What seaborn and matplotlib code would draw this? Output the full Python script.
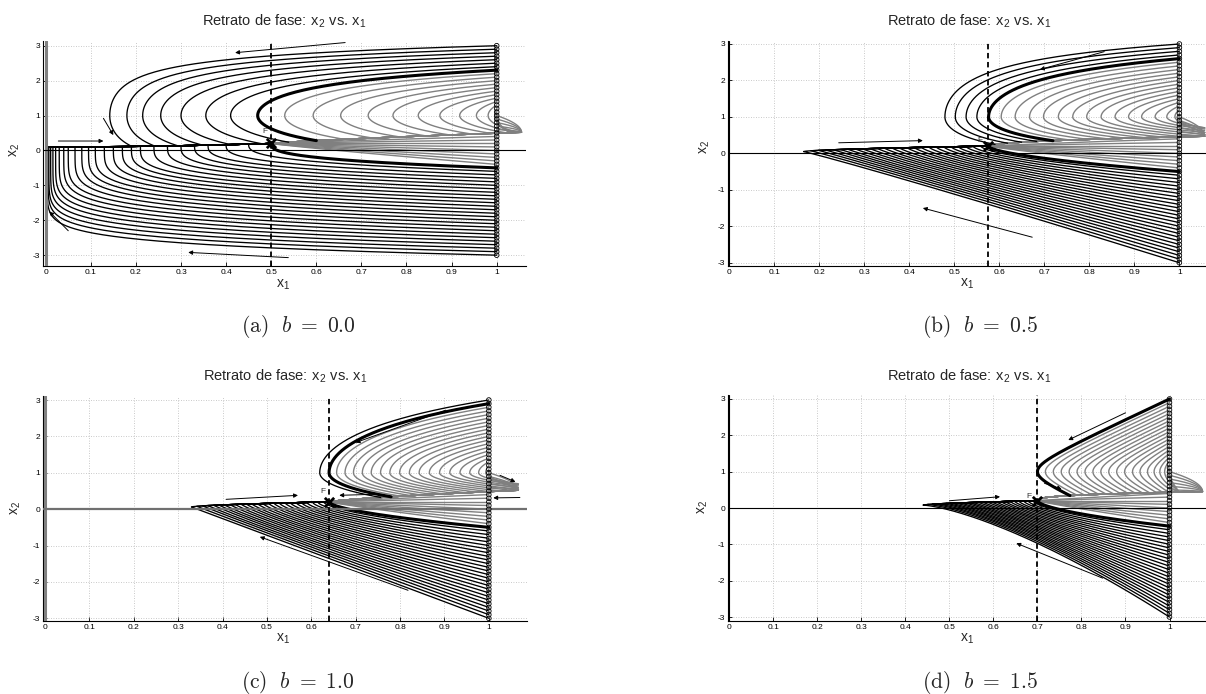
import numpy as np
import pandas as pd
import matplotlib
matplotlib.use("Agg")
import matplotlib.pyplot as plt
import seaborn as sns

# ---------------- data ----------------
B_VALUES = [0.0, 0.5, 1.0, 1.5]
PANEL_TAGS = ["(a)", "(b)", "(c)", "(d)"]
F_X = [0.500, 0.575, 0.640, 0.700]
F_Y = [0.20, 0.20, 0.20, 0.20]
CUSP_X = [0.003, 0.165, 0.330, 0.440]
CUSP_Y = [0.10, 0.05, 0.06, 0.08]
TIP_X = [1.055, 1.056, 1.066, 1.075]
TIP_Y = [0.52, 0.47, 0.52, 0.45]

UPPER_START = [3.0, 2.9, 2.8, 2.7, 2.6, 2.5, 2.4, 2.3, 2.2, 2.1,
               2.0, 1.9, 1.8, 1.7, 1.6, 1.5, 1.4, 1.3, 1.2, 1.1]
UPPER_BOLD = [2.3, 2.6, 2.9, 3.0]
VERTEX_A = [0.142, 0.180, 0.215, 0.255, 0.300, 0.355, 0.410, 0.470, 0.530, 0.593,
            0.654, 0.715, 0.770, 0.826, 0.874, 0.918, 0.955, 0.981, 0.996, 0.999]
VERTEX_B = [0.479, 0.502, 0.526, 0.550, 0.576, 0.604, 0.635, 0.667, 0.698, 0.731,
            0.763, 0.794, 0.826, 0.857, 0.887, 0.916, 0.946, 0.972, 0.990, 0.999]
VERTEX_C = [0.619, 0.640, 0.657, 0.676, 0.695, 0.715, 0.735, 0.756, 0.777, 0.799,
            0.821, 0.843, 0.866, 0.889, 0.912, 0.935, 0.957, 0.977, 0.993, 0.999]
VERTEX_D = [0.700, 0.718, 0.736, 0.754, 0.772, 0.790, 0.808, 0.826, 0.844, 0.862,
            0.880, 0.898, 0.916, 0.933, 0.950, 0.965, 0.978, 0.989, 0.996, 0.999]
VERTICES = [VERTEX_A, VERTEX_B, VERTEX_C, VERTEX_D]

LOWER_START = [-0.5, -0.6, -0.7, -0.8, -0.9, -1.0, -1.1, -1.2, -1.3, -1.4, -1.5, -1.6, -1.7,
               -1.8, -1.9, -2.0, -2.1, -2.2, -2.3, -2.4, -2.5, -2.6, -2.7, -2.8, -2.9, -3.0]
LOWER_TIP_A = [0.500, 0.450, 0.400, 0.360, 0.330, 0.300, 0.270, 0.240, 0.210, 0.190, 0.170, 0.150, 0.130,
               0.110, 0.095, 0.080, 0.065, 0.050, 0.040, 0.030, 0.022, 0.016, 0.011, 0.007, 0.005, 0.003]
LOWER_TIP_B = [0.575, 0.559, 0.542, 0.526, 0.509, 0.493, 0.477, 0.460, 0.444, 0.427, 0.411, 0.395, 0.378,
               0.362, 0.345, 0.329, 0.313, 0.296, 0.280, 0.263, 0.247, 0.231, 0.214, 0.198, 0.181, 0.165]
LOWER_TIP_C = [0.640, 0.628, 0.615, 0.603, 0.590, 0.578, 0.566, 0.553, 0.541, 0.528, 0.516, 0.504, 0.491,
               0.479, 0.466, 0.454, 0.442, 0.429, 0.417, 0.404, 0.392, 0.380, 0.367, 0.355, 0.342, 0.330]
LOWER_TIP_D = [0.700, 0.690, 0.679, 0.669, 0.658, 0.648, 0.638, 0.627, 0.617, 0.606, 0.596, 0.586, 0.575,
               0.565, 0.554, 0.544, 0.534, 0.523, 0.513, 0.502, 0.492, 0.482, 0.471, 0.461, 0.450, 0.440]
LOWER_TIPS = [LOWER_TIP_A, LOWER_TIP_B, LOWER_TIP_C, LOWER_TIP_D]

WEDGE_START = [-0.4, -0.3, -0.2, -0.1, 0.0, 0.1, 0.2, 0.3, 0.4]
RETURN_START = [0.5, 0.6, 0.7, 0.8, 0.9, 1.0]

F_LABEL_X = [0.486, 0.557, 0.627, 0.680]
F_LABEL_Y = [0.54, 0.36, 0.48, 0.31]

ARROWS_A = [((0.664, 3.09), (0.42, 2.80)), ((0.128, 0.92), (0.15, 0.44)),
            ((0.028, 0.27), (0.128, 0.27)), ((0.05, -2.30), (0.008, -1.75)),
            ((0.538, -3.07), (0.316, -2.92))]
ARROWS_B = [((0.833, 2.79), (0.69, 2.30)), ((0.243, 0.29), (0.43, 0.35)),
            ((0.673, -2.30), (0.43, -1.50))]
ARROWS_C = [((0.903, 2.72), (0.70, 1.83)), ((0.408, 0.27), (0.57, 0.38)),
            ((0.747, 0.41), (0.663, 0.38)), ((1.025, 0.93), (1.06, 0.75)),
            ((1.07, 0.32), (1.01, 0.31)), ((0.818, -2.23), (0.484, -0.76))]
ARROWS_D = [((0.90, 2.62), (0.77, 1.87)), ((0.716, 0.68), (0.755, 0.52)),
            ((0.50, 0.20), (0.615, 0.31)), ((0.848, -1.93), (0.652, -0.97))]
ARROWS = [ARROWS_A, ARROWS_B, ARROWS_C, ARROWS_D]

# ---------------- curve-shape settings (style) ----------------
ARM_SHAPE = [("exp", 0.75), ("exp", 0.45), ("exp", 0.15), ("hyp", 0.35)]
ARM_STRETCH = [1.12, 1.69, 1.94, 1.03]
UP_RIDGE_POW = [0.8, 0.5, 0.74, 0.35]
LOW_RIDGE_POW = [2.0, 0.6, 0.6, 0.6]
LOWER_POW = [(0.35, 0.10), (0.6, 1.05), (0.6, 1.0), (0.6, 1.4)]

# layout in pixels (left, right, top, bottom) and limits
FIG_W, FIG_H = 1206, 694
AX_PX = [(43, 526, 41, 266), (728, 1210, 40.5, 266), (43, 527, 396, 621), (728, 1210, 395, 621)]
XLIMS = [(-0.006, 1.065), (-0.003, 1.068), (-0.0045, 1.086), (-0.003, 1.092)]
YLIMS = [(-3.31, 3.135), (-3.09, 3.096), (-3.074, 3.11), (-3.11, 3.11)]
TITLE_PX = [(284, 21.7), (969, 21.7), (285, 376.7), (969, 376.7)]
YLAB_PX = [(15, 150), (705, 147), (16, 508), (703, 507)]
XLAB_PX = [(283, 285), (967, 284), (283, 639), (967, 638.5)]
CAP_PX = [(298, 327), (980, 327), (298, 682), (980, 682)]

sns.set_style("white")
plt.rcParams["font.family"] = ["Liberation Sans", "DejaVu Sans"]
plt.rcParams["mathtext.fontset"] = "cm"
plt.rcParams["axes.unicode_minus"] = False

GRAY = "#808080"


def phi(kind, par, dy):
    dy = np.abs(dy)
    if kind == "exp":
        return np.expm1(par * dy ** 2)
    return np.sqrt(par ** 2 + dy ** 2) - par


def ridge(x, k):
    x = np.asarray(x, float)
    fx, fy = F_X[k], F_Y[k]
    ul = np.clip((x - CUSP_X[k]) / (fx - CUSP_X[k]), 0, 1)
    uu = np.clip((x - fx) / (TIP_X[k] - fx), 0, 1)
    low = CUSP_Y[k] + (fy - CUSP_Y[k]) * ul ** LOW_RIDGE_POW[k]
    up = fy + (TIP_Y[k] - fy) * uu ** UP_RIDGE_POW[k]
    return np.where(x < fx, low, up)


def ridge_path(xa, k):
    xs = np.linspace(xa, F_X[k], 80)
    return xs, ridge(xs, k)


def upper_curve(k, y0, xv):
    kind, par = ARM_SHAPE[k]
    c = (1.0 - xv) / phi(kind, par, y0 - 1.0)
    ya = np.linspace(y0, 1.0, 140)
    xa = xv + c * phi(kind, par, ya - 1.0)
    yb = np.linspace(1.0, -0.6, 900)
    xb = xv + c * phi(kind, par, ARM_STRETCH[k] * (1.0 - yb))
    hit = (yb <= ridge(xb, k)) | (xb >= TIP_X[k])
    i = int(np.argmax(hit)) if hit.any() else len(yb) - 1
    xb, yb = xb[: i + 1], yb[: i + 1]
    xe = min(xb[-1], TIP_X[k])
    xr, yr = ridge_path(xe, k)
    return (np.concatenate([xa, xb]), np.concatenate([ya, yb])), (xr, yr), xe


def lower_curve(k, y0, xt, p):
    u = np.concatenate([np.geomspace(1.0, 1e-6, 240), [0.0]])
    yt = float(ridge(xt, k))
    x1 = xt + (1.0 - xt) * u
    x2 = yt + (y0 - yt) * u ** p
    xr, yr = ridge_path(xt, k)
    return np.concatenate([x1, xr]), np.concatenate([x2, yr])


def wedge_curve(k, y0):
    u = np.linspace(1.0, 0.0, 120)
    return F_X[k] + (1.0 - F_X[k]) * u, F_Y[k] + (y0 - F_Y[k]) * u ** 0.9


def return_curve(k, y0):
    s = np.linspace(0.0, 1.0, 120)
    x1 = 1.0 + (TIP_X[k] - 1.0) * (1.0 - (1.0 - s) ** 2)
    x2 = y0 + (TIP_Y[k] - y0) * s
    xr, yr = ridge_path(TIP_X[k], k)
    return np.concatenate([x1, xr]), np.concatenate([x2, yr])


def build_panel(k):
    frames = []
    cid = 0

    def add(x, y, grp):
        nonlocal cid
        frames.append(pd.DataFrame({"x1": x, "x2": y, "cid": cid, "grp": grp}))
        cid += 1

    for y0, xv in zip(UPPER_START, VERTICES[k]):
        (xa, ya), (xr, yr), xe = upper_curve(k, y0, xv)
        if abs(y0 - UPPER_BOLD[k]) < 1e-9:
            grp = "bold"
        elif y0 > UPPER_BOLD[k]:
            grp = "black"
        else:
            grp = "gray"
        add(xa, ya, grp)
        add(xr, yr, "gray" if (xe > F_X[k] or grp == "gray") else "black")
    p_top, p_bot = LOWER_POW[k]
    n = len(LOWER_START)
    for i, (y0, xt) in enumerate(zip(LOWER_START, LOWER_TIPS[k])):
        p = p_top + (p_bot - p_top) * i / (n - 1)
        x, y = lower_curve(k, y0, xt, p)
        add(x, y, "bold" if i == 0 else "black")
    for y0 in WEDGE_START:
        x, y = wedge_curve(k, y0)
        add(x, y, "gray")
    for y0 in RETURN_START:
        x, y = return_curve(k, y0)
        add(x, y, "gray")
    return pd.concat(frames, ignore_index=True)


fig = plt.figure(figsize=(FIG_W / 100, FIG_H / 100), dpi=100)

for k in range(4):
    l, r, t, b = AX_PX[k]
    ax = fig.add_axes([l / FIG_W, 1 - b / FIG_H, (r - l) / FIG_W, (b - t) / FIG_H])
    ax.set_xlim(*XLIMS[k])
    ax.set_ylim(*YLIMS[k])
    ax.set_xticks([0, 0.1, 0.2, 0.3, 0.4, 0.5, 0.6, 0.7, 0.8, 0.9, 1])
    ax.set_xticklabels(["0", "0.1", "0.2", "0.3", "0.4", "0.5", "0.6", "0.7", "0.8", "0.9", "1"])
    ax.set_yticks([-3, -2, -1, 0, 1, 2, 3])
    ax.grid(True, linestyle=(0, (1, 2)), color="#b8b8b8", lw=0.6)
    ax.set_axisbelow(True)

    df = build_panel(k)
    styles = {"gray": (GRAY, 1.0, 2), "black": ("black", 0.95, 3), "bold": ("black", 2.2, 4)}
    for grp in ["gray", "black", "bold"]:
        col, lw, z = styles[grp]
        sub = df[df["grp"] == grp]
        sns.lineplot(data=sub, x="x1", y="x2", units="cid", estimator=None, sort=False,
                     color=col, lw=lw, ax=ax, legend=False, zorder=z)

    if k in (0, 2):
        ax.axvline(0, color=GRAY, lw=2.2, zorder=5)
    else:
        ax.axvline(0, color="black", lw=0.8, zorder=5)
    if k == 2:
        ax.axhline(0, color="#707070", lw=1.6, zorder=5)
    else:
        ax.axhline(0, color="black", lw=0.8, zorder=5)
    ax.axvline(F_X[k], color="black", lw=1.3, ls=(0, (3, 2)), zorder=6)

    starts = sorted(LOWER_START + WEDGE_START + RETURN_START + UPPER_START)
    sns.scatterplot(x=[1.0] * len(starts), y=starts, marker="o", s=11,
                    facecolor="none", edgecolor="black", linewidth=0.6, ax=ax, zorder=7)
    sns.scatterplot(x=[F_X[k]], y=[F_Y[k]], marker="x", s=45, color="black",
                    linewidth=2.0, ax=ax, zorder=8)
    ax.text(F_LABEL_X[k], F_LABEL_Y[k], "F", fontsize=6, color="#333333",
            ha="center", va="center", zorder=8)

    for (xs, ys), (xe, ye) in ARROWS[k]:
        ax.annotate("", xy=(xe, ye), xytext=(xs, ys),
                    arrowprops=dict(arrowstyle="-|>", color="black", lw=0.7,
                                    mutation_scale=6, shrinkA=0, shrinkB=0), zorder=9)

    ax.set_xlabel("")
    ax.set_ylabel("")
    for sp in ["top", "right"]:
        ax.spines[sp].set_visible(False)
    for sp in ["left", "bottom"]:
        ax.spines[sp].set_color("black")
        ax.spines[sp].set_linewidth(0.8)
    ax.tick_params(direction="in", length=3, width=0.6, labelsize=6, pad=2,
                   colors="black", left=True, bottom=True)

    tx, ty = TITLE_PX[k]
    fig.text(tx / FIG_W, 1 - ty / FIG_H, r"Retrato de fase: x$_\mathregular{2}$ vs. x$_\mathregular{1}$",
             ha="center", va="center", fontsize=10.5)
    yx, yy = YLAB_PX[k]
    fig.text(yx / FIG_W, 1 - yy / FIG_H, r"x$_\mathregular{2}$", rotation=90,
             ha="center", va="center", fontsize=10)
    xx, xy = XLAB_PX[k]
    fig.text(xx / FIG_W, 1 - xy / FIG_H, r"x$_\mathregular{1}$", ha="center", va="center", fontsize=10)
    cx, cy = CAP_PX[k]
    fig.text(cx / FIG_W, 1 - cy / FIG_H,
             r"$\mathrm{%s}\ \ b\ =\ %.1f$" % (PANEL_TAGS[k], B_VALUES[k]),
             ha="center", va="center", fontsize=15.5)

fig.savefig("out.png", dpi=100)
